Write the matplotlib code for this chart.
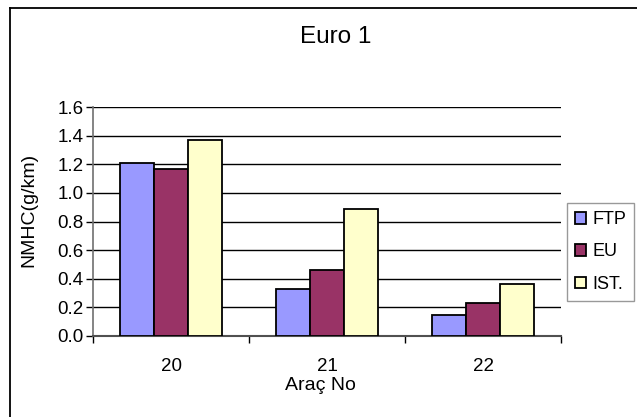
import matplotlib
matplotlib.use("Agg")
import matplotlib.pyplot as plt
from matplotlib.lines import Line2D
import numpy as np

plt.rcParams['font.family'] = ['Liberation Sans', 'DejaVu Sans']

# Data
vehicles = ["20", "21", "22"]
series_names = ["FTP", "EU", "IST."]
ftp = [1.21, 0.33, 0.15]
eu = [1.17, 0.46, 0.23]
ist = [1.37, 0.89, 0.36]
y_ticks = [0.0, 0.2, 0.4, 0.6, 0.8, 1.0, 1.2, 1.4, 1.6]

colors = ["#9999FF", "#993366", "#FFFFCC"]

W, H, DPI = 637, 417, 100
fig = plt.figure(figsize=(W / DPI, H / DPI), dpi=DPI)
fig.patch.set_facecolor("white")

# Chart-area border (top and left edges visible)
fig.add_artist(Line2D([10 / W, 10 / W], [0, 1 - 8 / H], color="black", lw=1.3,
                      transform=fig.transFigure))
fig.add_artist(Line2D([10 / W, 1], [1 - 8 / H, 1 - 8 / H], color="black", lw=1.3,
                      transform=fig.transFigure))

ax = fig.add_axes([93 / W, 1 - 336 / H, (561 - 93) / W, (336 - 107) / H])

x = np.arange(len(vehicles))
bw = 0.22
for i, (vals, name) in enumerate(zip([ftp, eu, ist], series_names)):
    ax.bar(x + (i - 1) * bw, vals, width=bw, color=colors[i], edgecolor="black",
           linewidth=1.3, label=name, zorder=3)

ax.set_xlim(-0.5, 2.5)
ax.set_ylim(0, 1.6)
ax.set_yticks(y_ticks)
ax.set_yticklabels([f"{v:.1f}" for v in y_ticks])
ax.yaxis.grid(True, color="black", lw=1.0, zorder=0)
ax.set_axisbelow(True)

ax.set_xticks(x)
ax.set_xticklabels(vehicles)
ax.set_xticks([-0.5, 0.5, 1.5, 2.5], minor=True)
ax.tick_params(axis="x", which="major", length=0, pad=16, labelsize=13.5)
ax.tick_params(axis="x", which="minor", length=5, width=1, color="black", direction="out")
ax.tick_params(axis="y", which="major", length=5, width=1, color="black", pad=2,
               labelsize=13.5)

for s in ["top", "right"]:
    ax.spines[s].set_visible(False)
ax.spines["left"].set_color("#707070")
ax.spines["bottom"].set_color("#505050")
ax.spines["left"].set_linewidth(1.2)
ax.spines["bottom"].set_linewidth(1.5)

fig.text(336 / W, 1 - 37 / H, "Euro 1", ha="center", va="center", fontsize=17.5)
fig.text(29 / W, 1 - 210 / H, "NMHC(g/km)", ha="center", va="center",
         rotation=90, fontsize=14)
fig.text(320 / W, 1 - 386 / H, "Araç No", ha="center", va="center", fontsize=14)

leg = ax.legend(loc="center", bbox_to_anchor=(600.5 / W, 1 - 252 / H),
                bbox_transform=fig.transFigure, frameon=True, fancybox=False,
                fontsize=13, handlelength=0.6, handleheight=0.6,
                handletextpad=0.35, labelspacing=0.85, borderpad=0.45,
                borderaxespad=0)
leg.get_frame().set_edgecolor("#808080")
leg.get_frame().set_linewidth(1.0)
for p in leg.get_patches():
    p.set_linewidth(1.3)

fig.savefig("out.png", dpi=DPI)
